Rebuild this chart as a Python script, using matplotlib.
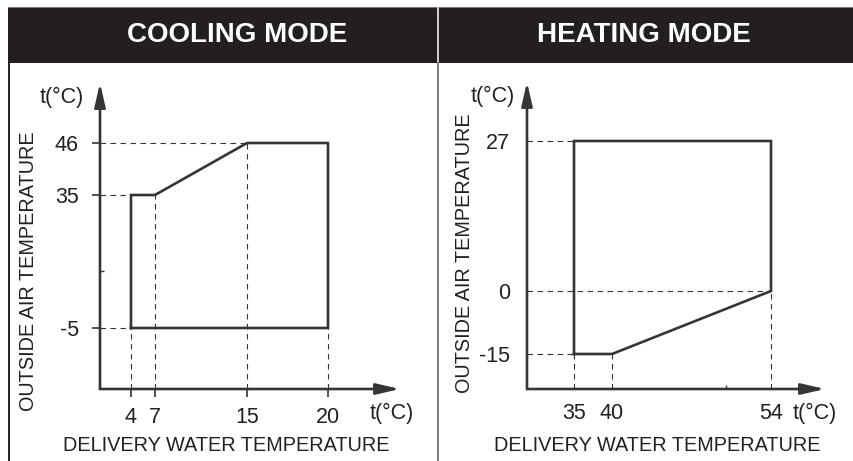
import numpy as np
import matplotlib
matplotlib.use("Agg")
import matplotlib.pyplot as plt
from matplotlib.patches import Rectangle
from matplotlib.lines import Line2D

W, H = 854, 461
plt.rcParams['font.family'] = ['Liberation Sans', 'DejaVu Sans']

INK = '#231f20'
LINE = '#353535'

# -------- operating envelopes ----------#

# cooling: water 4..20 C, air -5..46 C
cool_x = [4, 4, 7, 15, 20, 20, 4]
cool_y = [-5, 35, 35, 46, 46, -5, -5]
cool_xticks = [4, 7, 15, 20]
cool_yticks = [-5, 35, 46]
cool_hguides = [(46, 15), (35, 4), (-5, 4)]          # (air temp, water temp where it stops)
cool_vguides = [(4, -5), (7, 35), (15, 46), (20, -5)]  # (water temp, air temp where it stops)

# heating: water 35..54 C, air -15..27 C
heat_x = [35, 35, 54, 54, 40, 35]
heat_y = [-15, 27, 27, 0, -15, -15]
heat_xticks = [35, 40, 54]
heat_yticks = [-15, 0, 27]
heat_hguides = [(27, 35), (0, 54), (-15, 35)]
heat_vguides = [(35, -15), (40, -15), (54, 0)]

# the diagram is schematic: where each tick value sits (figure pixels)
cool_xpx = [131, 155, 247, 328]
cool_ypx = [328, 195, 143]
heat_xpx = [574, 612, 771]
heat_ypx = [354, 291, 141]

# -------- end of numbers ----------#


def piecewise(xk, yk):
    xk = np.asarray(xk, float)
    yk = np.asarray(yk, float)
    s0 = (yk[1] - yk[0]) / (xk[1] - xk[0])
    s1 = (yk[-1] - yk[-2]) / (xk[-1] - xk[-2])

    def f(v):
        v = np.asarray(v, float)
        out = np.interp(v, xk, yk)
        out = np.where(v < xk[0], yk[0] + (v - xk[0]) * s0, out)
        out = np.where(v > xk[-1], yk[-1] + (v - xk[-1]) * s1, out)
        return out
    return f


def px(x, y):
    return x / W, 1 - y / H


def panel(origin, tip, xvals, xpx, yvals, ypx):
    x0, y0 = origin
    x1, y1 = tip
    ax = fig.add_axes([x0 / W, 1 - y0 / H, (x1 - x0) / W, (y0 - y1) / H])
    ax.patch.set_alpha(0)
    fx, ix = piecewise(xvals, xpx), piecewise(xpx, xvals)
    ax.set_xscale('function', functions=(fx, ix))
    ax.set_xlim(float(ix(x0)), float(ix(x1)))
    neg = [-p for p in ypx]
    fy, iy = piecewise(yvals, neg), piecewise(neg, yvals)
    ax.set_yscale('function', functions=(fy, iy))
    ax.set_ylim(float(iy(-y0)), float(iy(-y1)))
    for s in ax.spines.values():
        s.set_visible(False)
    arrow = dict(arrowstyle='-|>,head_length=0.95,head_width=0.22', mutation_scale=15,
                 lw=1.9, color=LINE, shrinkA=0, shrinkB=0)
    ax.annotate('', xy=(0, 1), xytext=(0, 0), xycoords='axes fraction', arrowprops=arrow)
    ax.annotate('', xy=(1, 0), xytext=(0, 0), xycoords='axes fraction', arrowprops=arrow)
    return ax


def envelope(ax, xs, ys, xticks, yticks, hguides, vguides):
    xlo, ylo = ax.get_xlim()[0], ax.get_ylim()[0]
    dash = (0, (5, 4))
    for yv, xe in hguides:
        ax.hlines(yv, xlo, xe, colors=LINE, lw=0.8, linestyles=[dash], clip_on=False)
    for xv, ye in vguides:
        ax.vlines(xv, ylo, ye, colors=LINE, lw=0.8, linestyles=[dash], clip_on=False)
    ax.plot(xs, ys, color=LINE, lw=1.9, clip_on=False, solid_joinstyle='miter', zorder=3)
    ax.set_xticks(xticks, [str(v) for v in xticks])
    ax.set_yticks(yticks, [str(v) for v in yticks])


fig = plt.figure(figsize=(W / 100, H / 100), dpi=100)

# header band and frame
fig.add_artist(Rectangle(px(8, 63), (W - 8) / W, 55 / H, transform=fig.transFigure,
                         color=INK, lw=0))
fig.add_artist(Line2D([8 / W, 1], [1 - 7.5 / H] * 2, transform=fig.transFigure,
                      color='#7a7a7a', lw=0.8))
fig.add_artist(Line2D([438.5 / W] * 2, [1 - 8 / H, 1 - 63 / H], transform=fig.transFigure,
                      color='white', lw=1.1))
fig.add_artist(Line2D([438.5 / W] * 2, [1 - 63 / H, 0], transform=fig.transFigure,
                      color='#555555', lw=1.1))
fig.add_artist(Line2D([8.5 / W] * 2, [1 - 63 / H, 0], transform=fig.transFigure,
                      color=INK, lw=1.4))

fig.text(*px(237, 35), 'COOLING MODE', color='white', fontsize=20, fontweight='bold',
         ha='center', va='center')
fig.text(*px(644, 35), 'HEATING MODE', color='white', fontsize=20, fontweight='bold',
         ha='center', va='center')

# cooling
ax1 = panel((100, 389), (400, 83), cool_xticks, cool_xpx, cool_yticks, cool_ypx)
envelope(ax1, cool_x, cool_y, cool_xticks, cool_yticks, cool_hguides, cool_vguides)
ax1.tick_params(direction='out', length=5.8, width=1.2, color=LINE, labelsize=15.5,
                labelcolor=INK)
ax1.tick_params(axis='y', pad=9.4)
ax1.tick_params(axis='x', pad=7.2)
ax1.set_yticks([12], minor=True)
ax1.tick_params(which='minor', direction='in', length=3, width=1, color=LINE)

# heating
ax2 = panel((527, 389), (825, 82), heat_xticks, heat_xpx, heat_yticks, heat_ypx)
envelope(ax2, heat_x, heat_y, heat_xticks, heat_yticks, heat_hguides, heat_vguides)
ax2.tick_params(length=0, labelsize=15.5, labelcolor=INK)
ax2.tick_params(axis='y', pad=12.2)
ax2.tick_params(axis='x', pad=10)
ax2.set_xticks([50], minor=True)
ax2.tick_params(which='minor', direction='in', length=3, width=1, color=LINE)

# unit marks and axis titles
for x, y in [(62, 97), (493, 96), (392, 413), (815, 413)]:
    fig.text(*px(x, y), 't(°C)', color=INK, fontsize=15.5, ha='center', va='center')
for x, y in [(28.5, 271.5), (465, 253)]:
    fig.text(*px(x, y), 'OUTSIDE AIR TEMPERATURE', color=INK, fontsize=14.3, rotation=90,
             ha='center', va='center')
for x, y in [(226, 445), (657, 445)]:
    fig.text(*px(x, y), 'DELIVERY WATER TEMPERATURE', color=INK, fontsize=14.3,
             ha='center', va='center')

fig.savefig('out.png', dpi=100)
